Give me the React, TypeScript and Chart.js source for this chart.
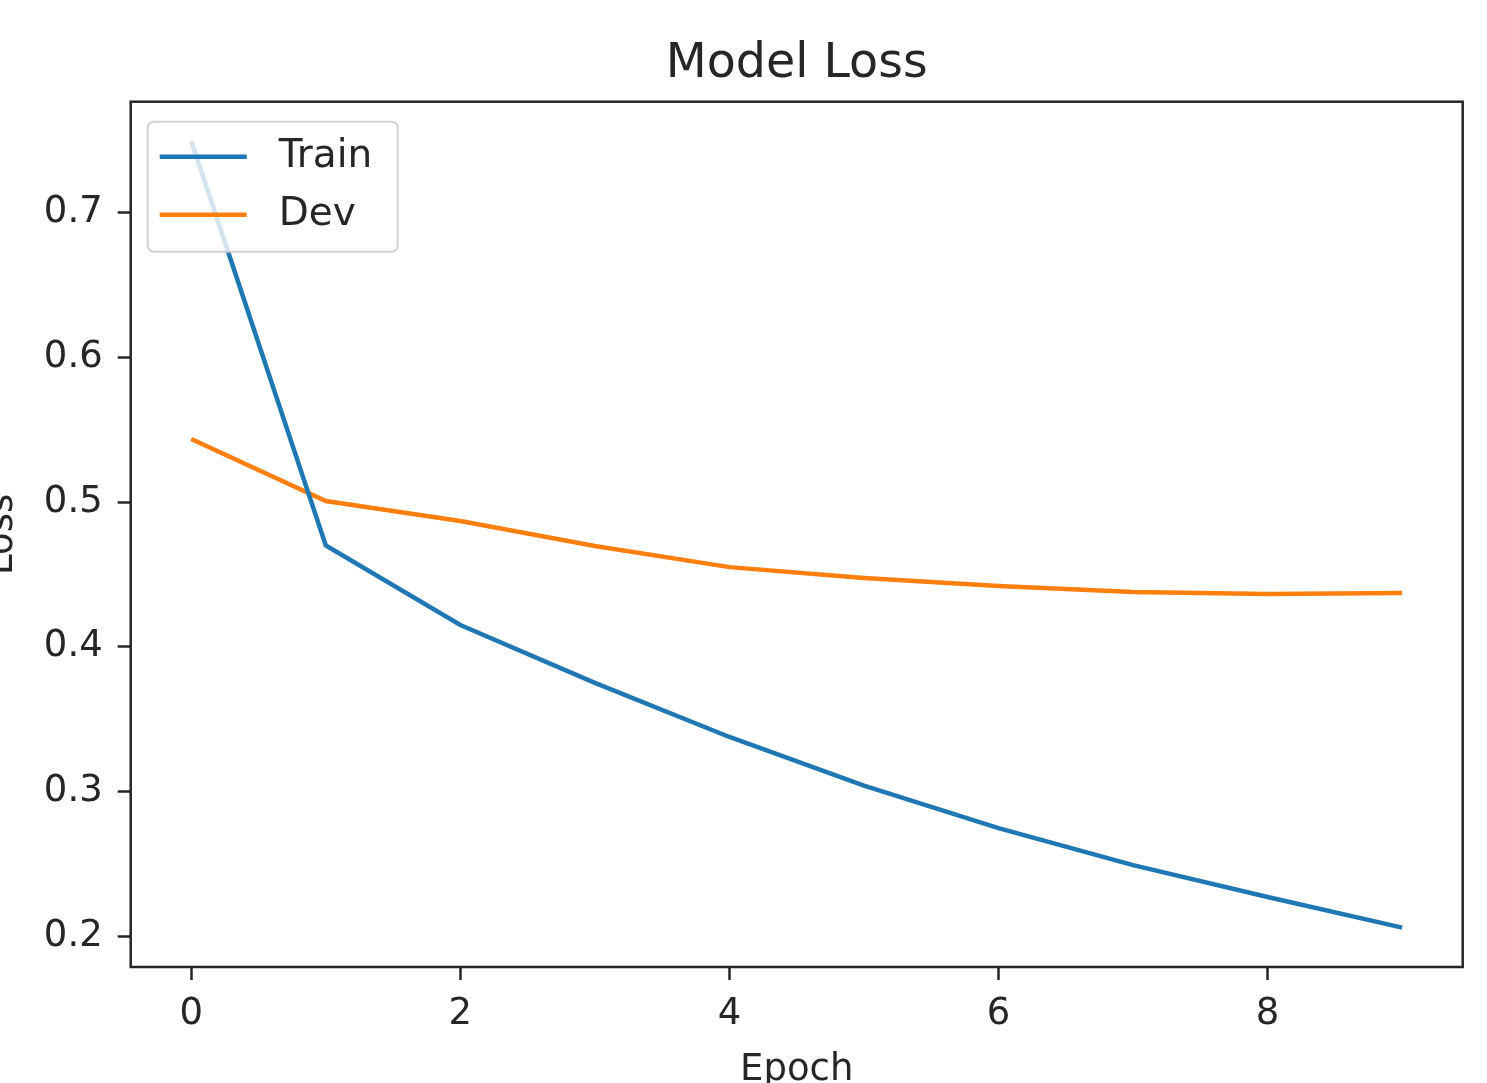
import React, { useEffect, useRef } from 'react';
import { Chart, registerables } from 'chart.js';

Chart.register(...registerables);

const epochs = [0, 1, 2, 3, 4, 5, 6, 7, 8, 9];
const trainLoss = [0.7495, 0.470, 0.415, 0.375, 0.3376, 0.304, 0.2746, 0.249, 0.227, 0.2058];
const devLoss = [0.5436, 0.5007, 0.4869, 0.4696, 0.455, 0.4475, 0.442, 0.4378, 0.4364, 0.4371];
const xTickValues = [0, 2, 4, 6, 8];
const yTickValues = [0.2, 0.3, 0.4, 0.5, 0.6, 0.7];
const seriesNames = ['Train', 'Dev'];
const seriesColors = ['#1f77b4', '#ff7f0e'];
const chartTitle = 'Model Loss';
const xTitle = 'Epoch';
const yTitle = 'Loss';

const FONT = "'DejaVu Sans', 'Liberation Sans', sans-serif";
const TEXT = '#262626';

// matplotlib-like 5% autoscale margins
function margins(vals: number[]) {
  const lo = Math.min(...vals);
  const hi = Math.max(...vals);
  const m = (hi - lo) * 0.05;
  return [lo - m, hi + m];
}

const frameAndLegend = {
  id: 'frameAndLegend',
  afterDatasetsDraw(chart: any) {
    const ctx = chart.ctx;
    const a = chart.chartArea;
    ctx.save();
    // spines
    ctx.strokeStyle = TEXT;
    ctx.lineWidth = 2.5;
    ctx.strokeRect(a.left, a.top, a.right - a.left, a.bottom - a.top);

    // legend (upper left, matplotlib style)
    const bx = a.left + 17;
    const by = a.top + 20;
    const bw = 250;
    const bh = 130;
    ctx.beginPath();
    ctx.roundRect(bx, by, bw, bh, 6);
    ctx.fillStyle = 'rgba(255,255,255,0.8)';
    ctx.fill();
    ctx.strokeStyle = '#d0d0d0';
    ctx.lineWidth = 2;
    ctx.stroke();

    ctx.font = `39px ${FONT}`;
    ctx.textBaseline = 'middle';
    ctx.textAlign = 'left';
    chart.data.datasets.forEach((ds: any, i: number) => {
      const yy = by + 35 + i * 58;
      ctx.beginPath();
      ctx.moveTo(bx + 12, yy);
      ctx.lineTo(bx + 99, yy);
      ctx.strokeStyle = ds.borderColor;
      ctx.lineWidth = ds.borderWidth;
      ctx.stroke();
      ctx.fillStyle = TEXT;
      ctx.fillText(ds.label, bx + 131, yy);
    });
    ctx.restore();
  },
};

export default function App() {
  const ref = useRef<HTMLCanvasElement>(null);

  useEffect(() => {
    if (!ref.current) return;
    const [xMin, xMax] = margins(epochs);
    const [yMin, yMax] = margins([...trainLoss, ...devLoss]);
    const series = [trainLoss, devLoss];

    const chart = new Chart(ref.current, {
      type: 'line',
      data: {
        datasets: series.map((vals, i) => ({
          label: seriesNames[i],
          data: epochs.map((e, j) => ({ x: e, y: vals[j] })),
          borderColor: seriesColors[i],
          backgroundColor: seriesColors[i],
          borderWidth: 4.5,
          pointRadius: 0,
          tension: 0,
          fill: false,
        })),
      },
      options: {
        animation: false,
        responsive: false,
        devicePixelRatio: 1,
        layout: { padding: { left: 0, right: 24.3, top: 0, bottom: 0 } },
        plugins: {
          legend: { display: false },
          tooltip: { enabled: false },
          title: {
            display: true,
            text: chartTitle,
            fullSize: false,
            color: TEXT,
            font: { family: FONT, size: 47.5, weight: 'normal' },
            padding: { top: 36, bottom: 8.7 },
          },
        },
        scales: {
          x: {
            type: 'linear',
            min: xMin,
            max: xMax,
            afterBuildTicks: (s: any) => {
              s.ticks = xTickValues.map((v) => ({ value: v }));
            },
            afterFit: (s: any) => {
              s.height = 116;
            },
            ticks: {
              color: TEXT,
              font: { family: FONT, size: 37 },
              padding: 12.5,
              maxRotation: 0,
              callback: (v: any) => String(v),
            },
            grid: {
              display: true,
              drawOnChartArea: false,
              drawTicks: true,
              tickLength: 13,
              tickWidth: 2.5,
              tickColor: TEXT,
            },
            border: { display: false },
            title: {
              display: true,
              text: xTitle,
              color: TEXT,
              font: { family: FONT, size: 37 },
              padding: { top: 0, bottom: -10 },
            },
          },
          y: {
            type: 'linear',
            min: yMin,
            max: yMax,
            afterBuildTicks: (s: any) => {
              s.ticks = yTickValues.map((v) => ({ value: v }));
            },
            afterFit: (s: any) => {
              s.width = 130.7;
            },
            ticks: {
              color: TEXT,
              font: { family: FONT, size: 37 },
              padding: 15,
              callback: (v: any) => Number(v).toFixed(1),
            },
            grid: {
              display: true,
              drawOnChartArea: false,
              drawTicks: true,
              tickLength: 13,
              tickWidth: 2.5,
              tickColor: TEXT,
            },
            border: { display: false },
            title: {
              display: true,
              text: yTitle,
              color: TEXT,
              font: { family: FONT, size: 37 },
              padding: { top: -20, bottom: 0 },
            },
          },
        },
      },
      plugins: [frameAndLegend],
    } as any);

    return () => chart.destroy();
  }, []);

  return (
    <div style={{ position: 'absolute', left: 0, top: 0, width: 1487, height: 1083, background: '#fff' }}>
      <canvas ref={ref} width={1487} height={1083} style={{ display: 'block' }} />
    </div>
  );
}
